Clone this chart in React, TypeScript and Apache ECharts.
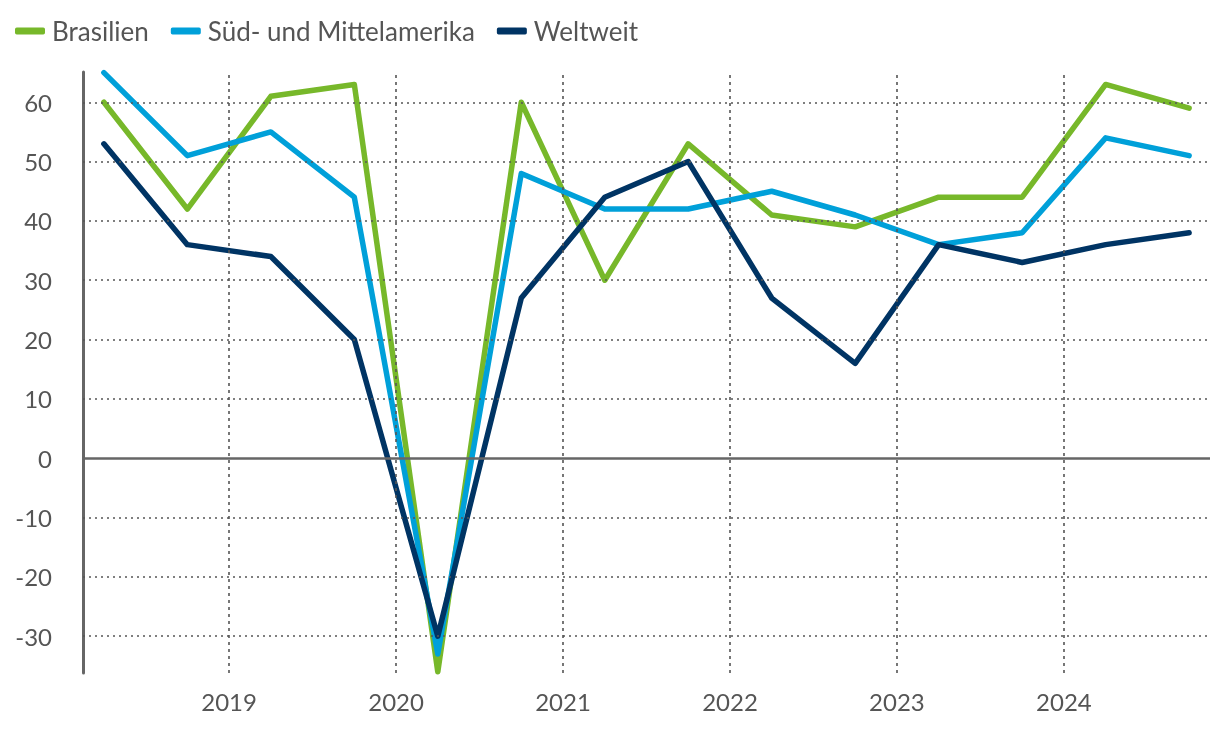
import React, { useEffect, useRef } from "react";
import * as echarts from "echarts";

// Half-year periods (plotted at year fraction positions)
const periods = [2018.25, 2018.75, 2019.25, 2019.75, 2020.25, 2020.75, 2021.25, 2021.75, 2022.25, 2022.75, 2023.25, 2023.75, 2024.25, 2024.75];
const brasilien = [60, 42, 61, 63, -36, 60, 30, 53, 41, 39, 44, 44, 63, 59];
const suedMittel = [65, 51, 55, 44, -33, 48, 42, 42, 45, 41, 36, 38, 54, 51];
const weltweit = [53, 36, 34, 20, -30, 27, 44, 50, 27, 16, 36, 33, 36, 38];
const yearTicks = [2019, 2020, 2021, 2022, 2023, 2024];
const yTicks = [-30, -20, -10, 0, 10, 20, 30, 40, 50, 60];

const FONT = "Lato";
const TEXT = "#555555";
const GRID = "#555555";

export default function App() {
  const ref = useRef<HTMLDivElement>(null);
  useEffect(() => {
    if (!ref.current) return;
    const chart = echarts.init(ref.current, null, { renderer: "svg" });
    const pts = (vals: number[]) => vals.map((v, i) => [periods[i], v]);
    const lineSeries = (name: string, vals: number[], color: string) => ({
      name,
      type: "line",
      data: pts(vals),
      symbol: "none",
      z: 3,
      lineStyle: { color, width: 5.5, cap: "round", join: "round" },
      itemStyle: { color },
    });
    chart.setOption({
      animation: false,
      textStyle: { fontFamily: FONT },
      legend: {
        left: 10,
        top: 13,
        itemWidth: 30,
        itemHeight: 7,
        itemGap: 22,
        icon: "roundRect",
        textStyle: { color: TEXT, fontSize: 26, fontFamily: FONT, padding: [0, 0, 0, 2] },
        data: ["Brasilien", "Süd- und Mittelamerika", "Weltweit"],
      },
      grid: { left: 83, right: 10, top: 72, bottom: 57, containLabel: false },
      xAxis: {
        type: "value",
        min: 2018.125,
        max: 2024.875,
        axisLine: { show: false, onZero: false },
        axisTick: { show: false },
        splitLine: { show: false },
        axisLabel: {
          customValues: yearTicks,
          color: TEXT,
          fontSize: 24,
          fontFamily: FONT,
          margin: 16,
          formatter: (v: number) => String(v),
        },
      },
      yAxis: {
        type: "value",
        min: -36.2,
        max: 65.1,
        axisLine: { show: true, onZero: false, lineStyle: { color: "#666666", width: 3 } },
        axisTick: { show: false },
        splitLine: { show: false },
        axisLabel: {
          customValues: yTicks,
          color: TEXT,
          fontSize: 24,
          fontFamily: FONT,
          margin: 31,
          formatter: (v: number) => String(v),
        },
      },
      series: [
        {
          name: "grid",
          type: "line",
          data: [],
          z: 1,
          silent: true,
          markLine: {
            silent: true,
            symbol: ["none", "none"],
            label: { show: false },
            emphasis: { disabled: true },
            data: [
              ...yTicks.filter((v) => v !== 0).map((v) => ({
                yAxis: v,
                lineStyle: { color: GRID, width: 1.6, type: [2, 4] },
              })),
              ...yearTicks.map((v) => ({
                xAxis: v,
                lineStyle: { color: GRID, width: 1.6, type: [3, 4] },
              })),
              { yAxis: 0, lineStyle: { color: "#666666", width: 2.5, type: "solid" } },
            ],
          },
        },
        lineSeries("Brasilien", brasilien, "#77b82a"),
        lineSeries("Süd- und Mittelamerika", suedMittel, "#00a0d9"),
        lineSeries("Weltweit", weltweit, "#003464"),
      ],
    });
    return () => chart.dispose();
  }, []);
  return <div ref={ref} style={{ position: "fixed", left: 0, top: 0, width: 1220, height: 730 }} />;
}
